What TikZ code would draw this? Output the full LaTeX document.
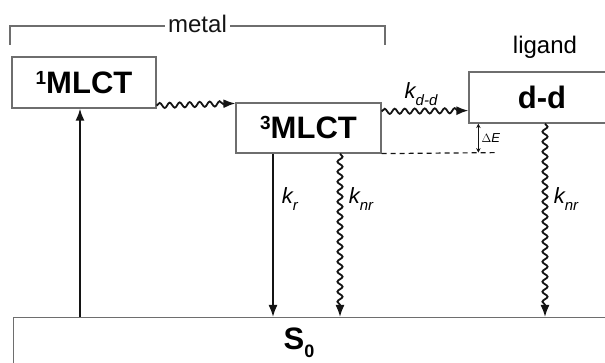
\documentclass[tikz,border=0pt]{standalone}
\usepackage{fontspec}
\setmainfont{Liberation Sans}
\usetikzlibrary{calc,positioning,arrows.meta,decorations.pathmorphing}
\definecolor{frame}{HTML}{6E6E6E}
\definecolor{ink}{HTML}{141414}

\newcommand{\rk}[1]{k\raisebox{-7pt}{\fontsize{15}{15}\selectfont #1}}
\newcommand{\supr}[1]{\raisebox{9pt}{\fontsize{19}{19}\selectfont #1}}

\tikzset{
  level/.style={draw=frame, line width=1.2pt, fill=white, inner sep=0pt,
    font=\bfseries\fontsize{31}{34}\selectfont},
  group/.style={font=\fontsize{24}{26}\selectfont, inner sep=3pt},
  rate/.style={font=\itshape\fontsize{22}{24}\selectfont, inner sep=1pt},
  arr/.style={draw=ink, line width=1.8pt, -{Latex[length=12pt,width=9pt]}},
  wavy/.style={arr, decorate,
    decoration={snake, amplitude=2.6pt, segment length=10pt, post length=10pt}},
}

\begin{document}
\begin{tikzpicture}[x=1pt, y=-1pt]
  \useasboundingbox (0,0) rectangle (605,363);
  \clip (0,0) rectangle (605,363);

  % levels
  \node[level, minimum width=144, minimum height=51] (mlctA) at (84,82.5) {\supr{1}MLCT};
  \node[level, minimum width=145, minimum height=50] (mlctC) at (308.5,128) {\supr{3}MLCT};
  \node[level, minimum width=146, minimum height=51] (dd) at (542,97.5) {d-d};
  \node[level, minimum width=620, minimum height=80, anchor=north west] (S0) at (13,317) {};
  \node[font=\bfseries\fontsize{31}{34}\selectfont, inner sep=0pt] (s0txt) at (299,343)
    {S\raisebox{-8pt}{\fontsize{18}{18}\selectfont 0}};

  % metal bracket
  \coordinate (mL) at (10,45);
  \coordinate (mR) at (385,45);
  \draw[frame, line width=1.2pt] (mL) -- ++(0,-19) coordinate (mLt)
    -- node[group, text=ink, fill=white, yshift=2pt] (metal) {metal} (mLt -| mR) -- (mR);
  \node[group] (ligand) at (545,47) {ligand};

  % transitions
  \draw[arr] ([xshift=-4pt]mlctA.south |- S0.north) -- ([xshift=-4pt]mlctA.south);
  \draw[wavy] ($(mlctA.south east)+(0,-3)$) -- ($(mlctC.north west)+(0,1)$);
  \draw[wavy] ($(mlctC.north east)+(0,9)$)
    -- node[rate, above=3pt, xshift=-4pt] (kdd) {\rk{d-d}} ($(dd.south west)+(0,-13)$);
  \draw[arr] ($(mlctC.south)+(-35.5,0)$) coordinate (krTop)
    -- node[rate, right=7pt, pos=0.28] (kr) {\rk{r}} (krTop |- S0.north);
  \draw[wavy] ($(mlctC.south)+(31.5,0)$) coordinate (knrTop)
    -- node[rate, right=7pt, pos=0.28] (knrA) {\rk{nr}} (knrTop |- S0.north);
  \draw[wavy] ($(dd.south)+(3,0)$) coordinate (knrTopB)
    -- node[rate, right=7pt, pos=0.39] (knrB) {\rk{nr}} (knrTopB |- S0.north);

  % energy gap
  \coordinate (gapEnd) at ($(mlctC.south east)+(115,-1)$);
  \draw[ink, line width=1.2pt, dash pattern=on 5pt off 4pt] (mlctC.south east) -- (gapEnd);
  \draw[ink, line width=0.8pt, {Stealth[length=4.5pt,width=4.5pt]}-{Stealth[length=4.5pt,width=4.5pt]}]
    ($(dd.south west)+(10,0)$) coordinate (gapTop) -- (gapTop |- gapEnd);
  \node[font=\fontsize{13}{14}\selectfont, inner sep=1pt, right=2pt] (dE)
    at ($(gapTop)!0.5!(gapTop |- gapEnd)$) {$\Delta$\textit{E}};
\end{tikzpicture}
\end{document}
